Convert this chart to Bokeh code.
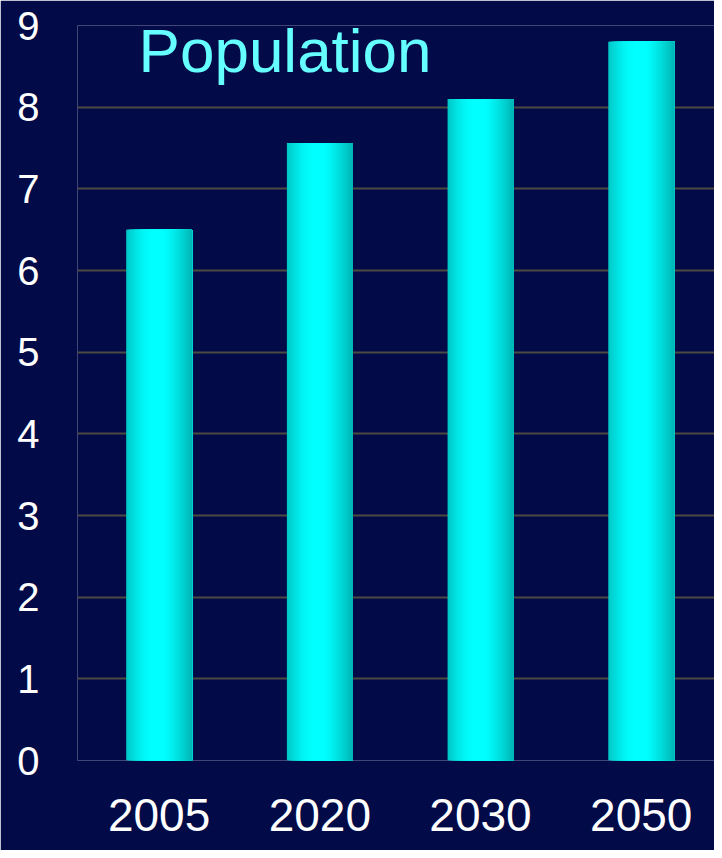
from bokeh.plotting import figure
from bokeh.models import ColumnDataSource, FixedTicker, Range1d, Label
from bokeh.embed import file_html
from bokeh.resources import INLINE
import math

# ---- data ----
years = ["2005", "2020", "2030", "2050"]
population = [6.5, 7.56, 8.1, 8.8]
y_ticks = [0, 1, 2, 3, 4, 5, 6, 7, 8, 9]
title_text = "Population"

BG = "#020b47"

p = figure(width=714, height=850, output_backend="svg", toolbar_location=None,
           x_range=Range1d(-0.008, 3.956), y_range=Range1d(0, 9),
           min_border_left=77, min_border_right=0, min_border_top=25, min_border_bottom=90)
p.background_fill_color = BG
p.border_fill_color = BG
p.outline_line_color = None

# bars drawn as gradient strips (each strip runs to the bar's right edge,
# later strips cover earlier ones, so no gaps)
xs = [i + 0.5 for i in range(len(years))]
bar_w = 0.41
N = 60

def shade(t):
    if t < 0.42:
        v = 198 + 57 * math.sin(math.pi / 2 * t / 0.42)
    elif t < 0.56:
        v = 255
    else:
        u = (t - 0.56) / 0.44
        v = 255 - 75 * u ** 1.3
    v = int(round(v))
    return "#00%02x%02x" % (v, v)

sl, sr, stop, scol = [], [], [], []
for xc, val in zip(xs, population):
    for k in range(N):
        t = (k + 0.5) / N
        sl.append(xc - bar_w / 2 + k * bar_w / N)
        sr.append(xc + bar_w / 2)
        stop.append(val)
        scol.append(shade(t))
src = ColumnDataSource(dict(left=sl, right=sr, top=stop, color=scol))
p.quad(left="left", right="right", top="top", bottom=0, color="color",
       line_color=None, source=src)

# grid
p.xgrid.grid_line_color = None
p.ygrid.grid_line_color = "#4a4a42"
p.ygrid.grid_line_width = 2
p.ygrid.ticker = FixedTicker(ticks=y_ticks)

# axes
p.yaxis.ticker = FixedTicker(ticks=y_ticks)
p.xaxis.ticker = FixedTicker(ticks=xs)
p.xaxis.major_label_overrides = {x: y for x, y in zip(xs, years)}
for ax in (p.xaxis, p.yaxis):
    ax.axis_line_color = None
    ax.major_tick_line_color = None
    ax.minor_tick_line_color = None
    ax.major_tick_out = 0
    ax.major_tick_in = 0
    ax.major_label_text_color = "white"
    ax.major_label_text_font = "Liberation Sans"
p.yaxis.major_label_text_font_size = "40px"
p.yaxis.major_label_standoff = 38
p.xaxis.major_label_text_font_size = "46px"
p.xaxis.major_label_standoff = 38

p.add_layout(Label(x=0.372, y=8.70, text=title_text, text_color="#66ffff",
                   text_font="Liberation Sans", text_font_size="62px",
                   text_baseline="alphabetic"))

html = file_html(p, INLINE)
html = html.replace("<body>", '<body style="background-color:%s">' % BG, 1)
open("out.html", "w").write(html)
